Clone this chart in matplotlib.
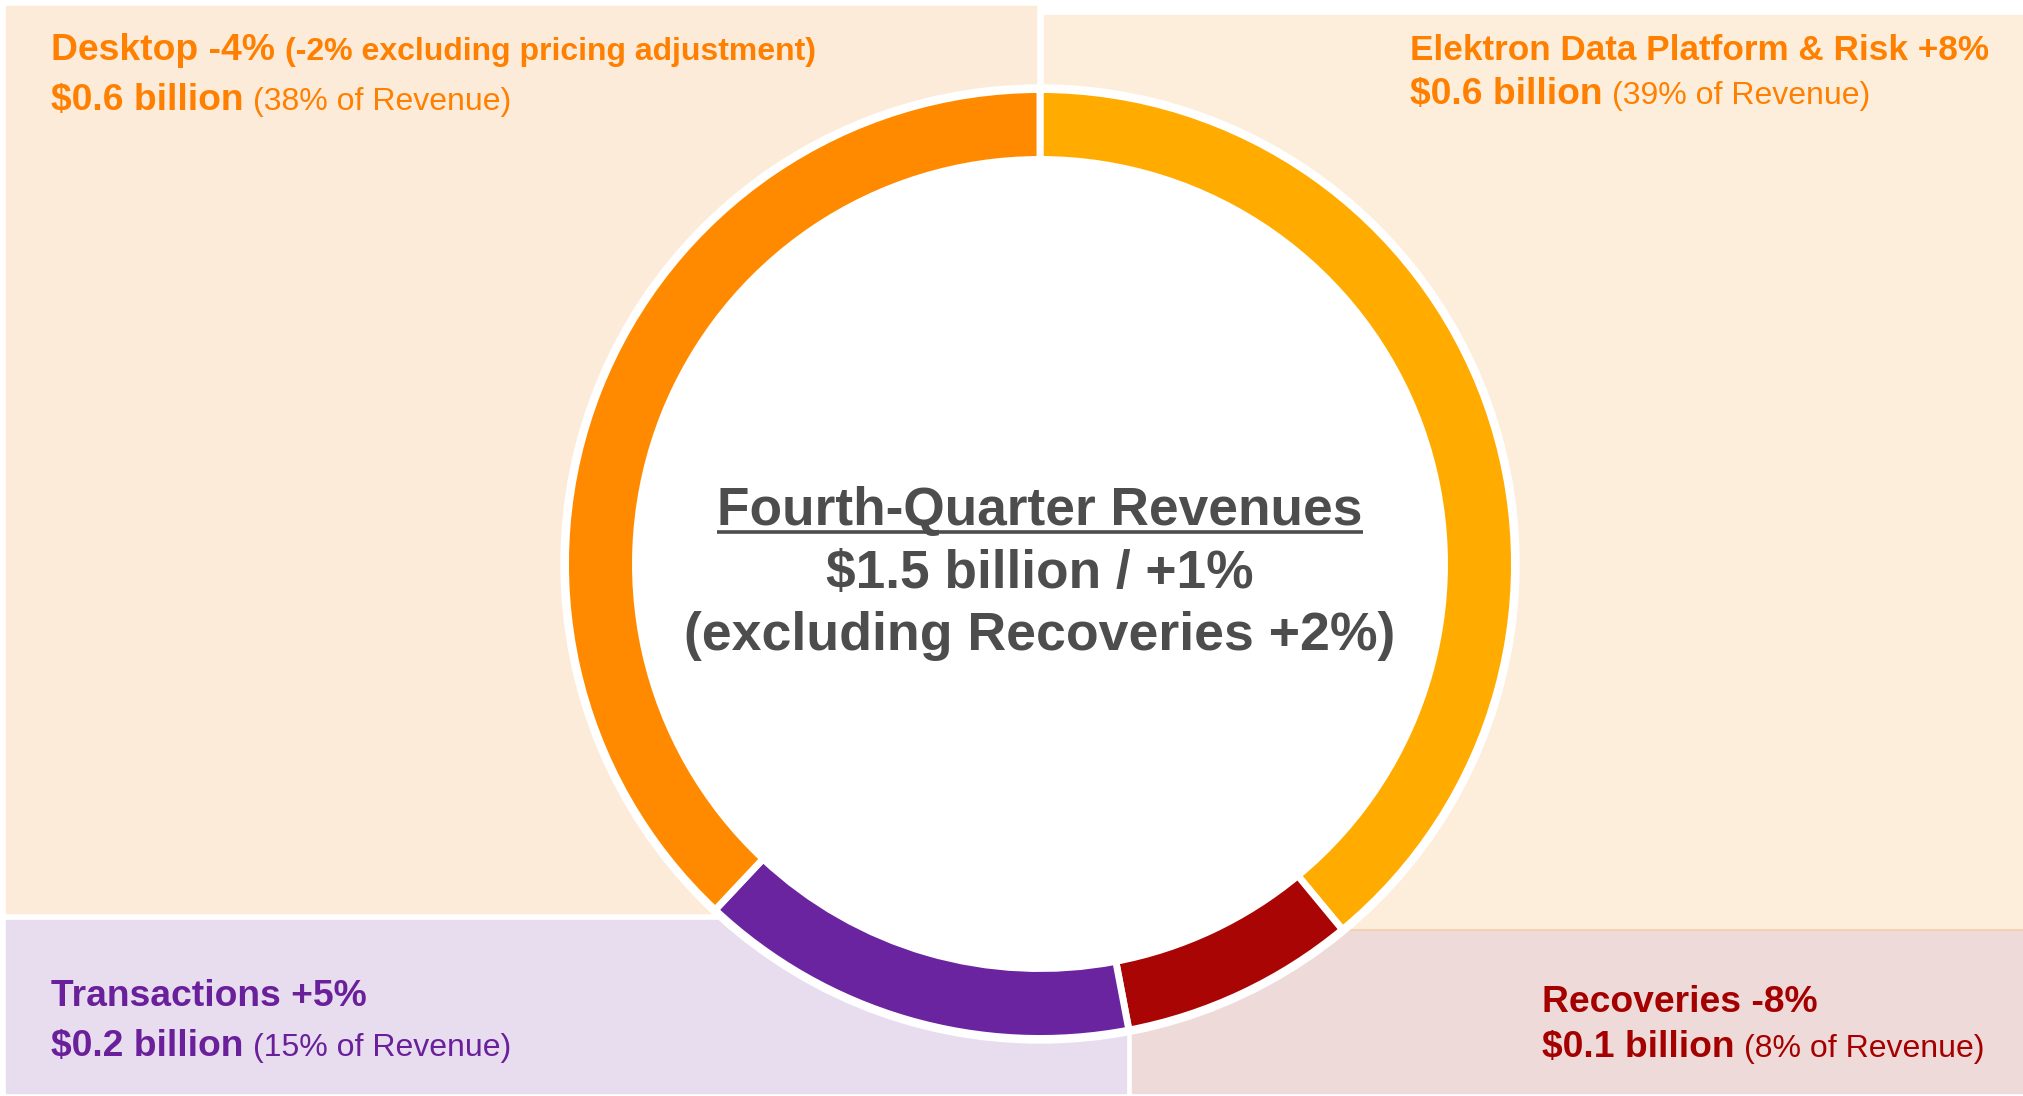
import matplotlib
matplotlib.use("Agg")
import matplotlib.pyplot as plt
from matplotlib.patches import Rectangle, Circle

plt.rcParams['font.family'] = ['Liberation Sans', 'DejaVu Sans']

# data, clockwise from 12 o'clock
segments = ['Elektron Data Platform & Risk', 'Recoveries', 'Transactions', 'Desktop']
shares = [39, 8, 15, 38]
growth = ['+8%', '-8%', '+5%', '-4%']
revenue = ['$0.6 billion', '$0.1 billion', '$0.2 billion', '$0.6 billion']
notes = ['', '', '', '(-2% excluding pricing adjustment)']
total_title = 'Fourth-Quarter Revenues'
total_rev = '$1.5 billion'
total_growth = '+1%'
growth_ex_recoveries = '+2%'

ring_colors = ['#FFAB00', '#A90505', '#6A24A0', '#FF8A00']
text_colors = ['#FF8000', '#A50000', '#6A1F9B', '#FF8000']
panel_colors = ['#FDEEDC', '#EFDADA', '#E8DDEE', '#FDEBD9']
grey = '#4D4D4D'

W, H = 2023, 1096
fig = plt.figure(figsize=(W / 100, H / 100), dpi=100)
ax = fig.add_axes([0, 0, 1, 1])


def Y(y):
    # image-style y (from top) to data y
    return H - y


# background panels (x0, x1, ytop, ybottom) in pixel coords
panels = [(1044, 2023, 15, 930), (1132, 2023, 930, 1093),
          (6, 1126, 920, 1093), (6, 1036, 6, 913)]
for (x0, x1, yt, yb), c in zip(panels, panel_colors):
    ax.add_patch(Rectangle((x0, Y(yb)), x1 - x0, yb - yt, color=c, zorder=0))
ax.plot([1132, 2023], [Y(930), Y(930)], color='#F5CFAA', lw=1.2, zorder=1)

cx, cy = 1040, Y(564)
ax.add_patch(Circle((cx, cy), 479, color='white', zorder=1))
wedges, _ = ax.pie(shares, colors=ring_colors, startangle=90, counterclock=False,
                   radius=474.5, center=(cx, cy),
                   wedgeprops=dict(width=70, edgecolor='white', linewidth=5))
for w in wedges:
    w.set_zorder(2)

ax.set_xlim(0, W)
ax.set_ylim(0, H)
ax.set_aspect('auto')
ax.axis('off')

fig.canvas.draw()
renderer = fig.canvas.get_renderer()


def line(x, y, parts, color):
    for txt, size, weight in parts:
        t = ax.text(x, Y(y), txt, fontsize=size, fontweight=weight, color=color,
                    va='baseline', ha='left', zorder=5)
        bb = t.get_window_extent(renderer)
        x += bb.width + size * 0.36


big, small = 26.8, 23
head_size = [25.3, big, big, big]
# positions of labels: (x, baseline1, baseline2)
label_pos = [(1410, 60, 104), (1542, 1012, 1057), (51, 1006, 1056), (51, 60, 110)]
for i, (x, b1, b2) in enumerate(label_pos):
    p1 = [(segments[i] + ' ' + growth[i], head_size[i], 'bold')]
    if notes[i]:
        p1.append((notes[i], 23, 'bold'))
    line(x, b1, p1, text_colors[i])
    line(x, b2, [(revenue[i], big, 'bold'),
                 ('(%d%% of Revenue)' % shares[i], small, 'normal')], text_colors[i])

# centre text
t = ax.text(cx, Y(525), total_title, fontsize=38.3, fontweight='bold', color=grey,
            ha='center', va='baseline', zorder=5)
bb = t.get_window_extent(renderer)
ax.plot([bb.x0, bb.x1], [Y(532), Y(532)], color=grey, lw=2.6, zorder=5,
        solid_capstyle='butt')
ax.text(cx, Y(588), total_rev + ' / ' + total_growth, fontsize=38.3, fontweight='bold',
        color=grey, ha='center', va='baseline', zorder=5)
ax.text(cx, Y(650), '(excluding Recoveries ' + growth_ex_recoveries + ')', fontsize=38.6,
        fontweight='bold', color=grey, ha='center', va='baseline', zorder=5)

fig.savefig('out.png', dpi=100)
